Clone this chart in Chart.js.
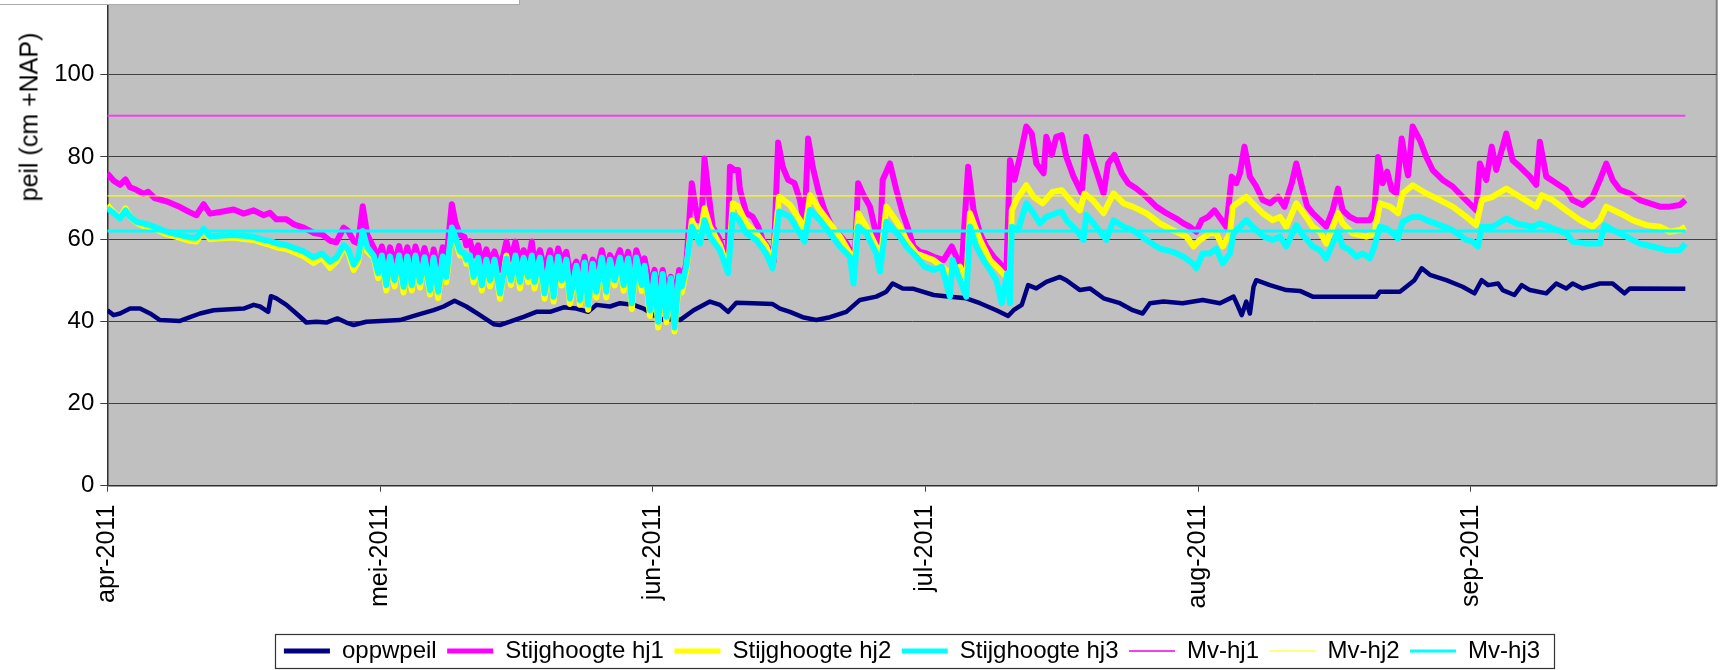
<!DOCTYPE html>
<html><head><meta charset="utf-8">
<script src="https://cdn.jsdelivr.net/npm/chart.js@4/dist/chart.umd.min.js"></script>
<style>
html,body{margin:0;padding:0;background:#fff;width:1729px;height:670px;overflow:hidden;position:relative;font-family:"Liberation Sans",Arial,sans-serif}
#wrap{position:absolute;left:0;top:-30px;width:1729px;height:703px}
#ytitle{position:absolute;left:29px;top:117px;transform:translate(-50%,-50%) rotate(-90deg);font-size:25px;white-space:nowrap;color:#000}
#logo{position:absolute;left:0;top:0;width:519px;height:4px;background:#fff;border-right:1px solid #aaa;border-bottom:1px solid #aaa}
</style></head>
<body>
<div id="wrap"><canvas id="c"></canvas></div>
<div id="ytitle">peil (cm +NAP)</div>
<div id="logo"></div>
<script>
// x = days since 1 april 2011
const TICK_DAYS = [0, 30, 60, 90, 120, 150];
const MONTH_LABELS = ['apr-2011','mei-2011','jun-2011','jul-2011','aug-2011','sep-2011'];
const Y_TICKS = [0, 20, 40, 60, 80, 100, 120];
const SERIES_NAMES = ['oppwpeil','Stijghoogte hj1','Stijghoogte hj2','Stijghoogte hj3','Mv-hj1','Mv-hj2','Mv-hj3'];

const oppwpeil = [[0,42.7],[0.7,41.5],[1.4,41.9],[2.5,43.1],[3.6,43.1],[4.7,41.9],[5.8,40.3],[8.0,40.1],[9.1,41.0],[10.2,41.9],[11.7,42.7],[13.1,42.9],[15.0,43.1],[16.1,44.0],[16.8,43.6],[17.7,42.3],[18.0,46.1],[18.6,45.6],[19.7,44.0],[20.8,41.9],[21.9,39.7],[23.0,39.9],[24.1,39.7],[25.3,40.7],[26.3,39.7],[27.1,39.1],[28.5,39.9],[32.2,40.3],[34.0,41.5],[35.9,42.7],[37.0,43.6],[38.2,45.0],[39.5,43.6],[41.0,41.5],[42.5,39.3],[43.2,39.1],[44.3,39.9],[45.8,41.1],[47.2,42.3],[48.7,42.3],[50.2,43.4],[51.6,43.1],[52.9,42.3],[53.8,44.0],[55.3,43.6],[56.4,44.4],[57.9,44.0],[59.0,43.1],[60.1,41.5],[61.2,40.3],[62.2,40.7],[63.0,40.3],[64.5,42.7],[66.3,44.8],[67.4,44.0],[68.3,42.3],[69.2,44.5],[71.0,44.4],[73.2,44.2],[74.0,43.1],[75.1,42.3],[76.5,41.0],[78.0,40.3],[79.5,41.0],[81.3,42.3],[82.8,45.2],[84.6,46.0],[85.7,47.2],[86.4,49.2],[87.5,48.0],[88.7,47.9],[90.9,46.4],[92.7,46.0],[94.5,45.6],[96.0,44.4],[97.8,42.7],[99.1,41.3],[99.7,42.7],[100.6,44.0],[101.3,48.8],[102.2,48.0],[103.3,49.6],[104.8,50.8],[105.5,50.0],[107.0,47.6],[108.1,48.0],[109.6,45.6],[111.4,44.4],[112.8,42.7],[113.9,41.9],[114.7,44.4],[116.2,44.8],[118.3,44.4],[120.5,45.2],[122.4,44.4],[123.9,46.0],[124.4,43.6],[124.8,41.5],[125.3,44.8],[125.7,41.9],[126.1,48.4],[126.4,50.0],[127.9,48.8],[129.7,47.6],[131.2,47.4],[132.6,46.0],[134.8,46.0],[139.6,46.0],[140.0,47.2],[142.2,47.2],[142.9,48.4],[143.8,50.0],[144.6,52.9],[145.5,51.3],[147.3,50.0],[149.1,48.4],[150.4,46.8],[151.2,50.0],[151.9,48.8],[153.0,49.2],[153.5,47.6],[154.8,46.4],[155.6,48.8],[156.5,47.6],[158.3,46.8],[159.4,49.2],[160.5,48.0],[161.2,49.2],[162.3,48.0],[164.2,49.2],[165.6,49.2],[166.9,46.8],[167.5,48.0],[173.6,47.9]];

const hj1 = [[0,76],[0.7,74.2],[1.4,73.2],[2.0,74.5],[2.5,72.6],[3.2,72.0],[4.0,71.0],[4.5,71.5],[5.2,70.0],[6.5,69.2],[8.0,67.8],[9.1,66.5],[9.8,65.8],[10.6,68.5],[11.3,66.2],[12.4,66.6],[13.9,67.2],[15.0,66.2],[16.1,67.0],[17.2,65.8],[17.9,66.4],[18.6,64.8],[19.7,64.8],[20.6,63.5],[21.6,62.8],[22.7,61.5],[23.6,61.2],[24.5,59.6],[25.2,59.2],[26.0,62.8],[26.5,62.0],[27.1,59.5],[27.6,59.0],[28.1,68.0],[28.6,61.0],
[29.3,58.0],[29.8,55.0],[30.2,58.2],[30.7,53.5],[31.1,58.0],[31.6,54.0],[32.1,58.3],[32.6,53.0],[33.0,58.0],[33.5,53.5],[33.9,58.2],[34.4,54.0],[34.9,57.8],[35.5,52.5],[35.9,57.5],[36.4,52.0],[36.9,58.0],[37.3,55.0],[37.9,68.5],[38.3,64.0],[38.8,61.0],[39.3,60.5],[39.5,58.5],[39.9,59.5],[40.3,56.0],[40.8,58.5],[41.2,54.0],[41.7,57.5],[42.1,54.5],[42.6,57.0],[43.2,52.5],[43.9,59.4],[44.4,55.0],[44.9,59.4],[45.4,54.0],[45.8,57.3],[46.3,54.5],[46.7,59.4],[47.0,54.0],[47.6,57.3],[48.1,52.5],[48.7,57.3],[49.1,52.0],[49.6,57.7],[50.0,54.5],[50.5,56.9],[50.9,51.5],[51.6,54.5],[52.0,51.0],[52.5,55.7],[52.9,50.0],[53.4,55.0],[53.8,52.0],[54.4,57.3],[54.9,52.0],[55.3,56.1],[55.8,54.0],[56.4,57.3],[56.8,53.0],[57.3,56.9],[57.7,50.5],[58.2,57.3],[58.8,53.0],[59.1,55.3],[59.7,48.5],[60.2,52.5],[60.6,46.0],[61.1,52.5],[61.5,47.0],[62.0,50.8],[62.4,45.0],[62.9,52.5],[63.2,50.0],[63.7,54.0],
[64.3,73.6],[64.7,68.0],[65.0,64.6],[65.4,66.0],[65.7,79.6],[66.1,72.0],[66.6,63.0],[67.4,59.8],[67.8,56.5],[68.2,53.5],[68.5,77.6],[69.0,76.8],[69.4,76.8],[69.6,72.0],[70.3,66.3],[71.0,65.4],[71.6,63.0],[72.1,59.8],[72.9,57.3],[73.3,54.5],[73.8,83.5],[74.3,77.6],[74.9,74.4],[75.6,73.6],[76.2,69.5],[76.7,63.0],[77.1,84.5],[77.6,77.6],[78.2,72.0],[78.9,67.0],[79.7,63.0],[80.4,61.4],[81.3,59.0],[81.9,56.5],[82.2,53.3],[82.6,73.6],[83.1,71.1],[83.9,67.9],[84.4,63.0],[85.0,58.2],[85.3,74.4],[86.1,78.4],[86.8,72.0],[87.5,66.3],[87.9,63.8],[88.7,58.2],[89.4,56.9],[90.1,56.5],[90.9,55.7],[92.0,54.9],[92.9,58.2],[93.4,55.7],[94.0,53.3],[94.7,77.6],[95.3,67.0],[96.0,61.4],[96.7,58.2],[97.5,55.7],[98.2,54.1],[98.9,51.7],[99.3,79.2],[99.8,74.4],[100.4,80.0],[101.1,87.4],[101.7,85.7],[102.2,78.4],[103.0,76.0],[103.3,84.9],[103.9,80.5],[104.4,84.9],[105.0,85.3],[105.5,80.0],[106.3,75.2],[107.2,71.1],[107.7,84.9],[108.3,80.0],[109.0,75.2],[109.6,71.1],[110.1,78.4],[110.8,80.5],[111.6,76.0],[112.3,73.6],[113.2,72.3],[114.3,70.3],[115.4,67.9],[116.5,66.3],[117.6,65.0],[118.4,63.8],[119.1,63.0],[119.8,61.8],[120.4,64.6],[121.1,65.4],[121.8,67.0],[122.6,64.6],[123.1,63.0],[123.7,75.2],[124.2,73.6],[124.6,76.0],[125.1,82.5],[125.7,75.2],[126.4,72.8],[127.1,69.5],[127.9,68.7],[128.8,70.3],[129.5,67.9],[130.3,73.6],[130.8,78.4],[131.5,72.0],[132.0,68.0],[132.6,66.3],[133.4,64.6],[134.1,63.0],[134.8,67.0],[135.4,72.3],[135.9,67.0],[136.7,65.4],[137.4,64.6],[138.1,64.6],[138.9,64.6],[139.4,67.0],[139.8,80.0],[140.3,73.6],[140.8,76.4],[141.3,72.0],[141.8,71.1],[142.4,84.5],[142.9,77.6],[143.1,75.5],[143.6,87.4],[144.4,84.1],[145.1,80.0],[145.8,76.8],[146.9,74.4],[148.0,72.8],[149.1,70.3],[150.2,67.9],[150.6,67.0],[151.0,78.4],[151.7,74.4],[152.3,82.5],[152.8,76.8],[153.9,85.7],[154.6,79.2],[155.4,77.6],[156.5,75.2],[157.2,73.2],[157.6,83.7],[158.3,75.2],[159.4,73.6],[160.5,72.0],[161.2,69.5],[162.3,68.3],[163.4,70.3],[164.2,74.4],[164.9,78.4],[165.6,74.4],[166.4,72.0],[167.5,71.1],[168.6,69.5],[169.7,68.7],[170.8,67.9],[171.9,67.9],[173.0,68.3],[173.6,69.5]];

const hj2 = [[0,68.3],[0.7,66.5],[1.4,65.2],[2.0,67.5],[2.5,65.5],[3.2,64.0],[4.0,63.2],[4.5,63.0],[5.2,62.5],[6.5,61.2],[8.0,60.3],[9.1,59.6],[9.8,59.4],[10.6,62.0],[11.3,60.0],[12.4,60.2],[13.9,60.4],[15.0,60.0],[16.1,59.8],[17.2,59.0],[17.9,58.6],[18.6,58.0],[19.7,57.6],[20.6,56.8],[21.6,55.8],[22.7,54.2],[23.6,55.5],[24.5,53.0],[25.2,54.5],[26.0,57.8],[26.5,56.8],[27.1,52.5],[27.6,54.5],[28.1,61.5],[28.6,57.0],
[29.3,55.5],[29.8,50.5],[30.2,55.5],[30.7,47.5],[31.1,55.3],[31.6,48.5],[32.1,55.5],[32.6,47.0],[33.0,55.3],[33.5,47.5],[33.9,55.5],[34.4,48.2],[34.9,55.2],[35.5,46.5],[35.9,55.0],[36.4,45.6],[36.9,55.3],[37.3,49.5],[37.9,62.0],[38.3,60.0],[38.8,56.0],[39.3,56.0],[39.5,54.0],[39.9,55.5],[40.3,49.5],[40.8,55.0],[41.2,47.5],[41.7,54.5],[42.1,48.5],[42.6,54.5],[43.2,45.5],[43.9,56.0],[44.4,48.8],[44.9,55.5],[45.4,48.0],[45.8,55.0],[46.3,49.5],[46.7,55.5],[47.0,48.0],[47.6,55.0],[48.1,45.5],[48.7,55.0],[49.1,44.8],[49.6,55.2],[50.0,48.7],[50.5,54.5],[50.9,44.2],[51.6,53.0],[52.0,44.0],[52.5,53.8],[52.9,42.8],[53.4,53.5],[53.8,45.8],[54.4,55.0],[54.9,45.8],[55.3,54.5],[55.8,48.7],[56.4,55.0],[56.8,47.4],[57.3,54.8],[57.7,43.0],[58.2,55.0],[58.8,47.4],[59.1,53.0],[59.7,41.3],[60.2,50.5],[60.6,38.5],[61.1,50.5],[61.5,39.8],[62.0,49.5],[62.4,37.5],[62.9,50.0],[63.2,47.0],[63.7,52.5],
[64.3,64.5],[65.2,60.6],[65.7,67.5],[66.3,63.0],[67.4,58.5],[68.3,52.5],[68.8,68.7],[69.4,67.9],[70.3,63.8],[71.4,61.4],[72.5,58.2],[73.2,53.7],[73.9,70.3],[75.1,68.3],[76.2,64.6],[76.7,61.4],[77.3,70.7],[78.4,67.0],[79.5,63.8],[80.6,60.6],[81.7,56.5],[82.1,50.8],[82.6,66.3],[83.5,63.0],[84.6,58.2],[85.0,53.3],[85.7,67.9],[87.2,63.0],[87.9,59.8],[89.0,56.5],[90.9,54.9],[92.7,51.7],[93.8,53.3],[94.5,50.0],[94.9,66.3],[96.0,59.8],[97.1,54.9],[98.2,52.5],[98.9,50.8],[99.3,50.8],[99.5,67.0],[100.0,69.5],[101.1,73.1],[101.9,70.3],[102.9,68.7],[104.0,71.5],[105.0,71.9],[105.9,69.5],[107.0,67.0],[107.5,71.1],[108.4,69.5],[109.6,66.3],[110.7,71.1],[111.8,68.7],[112.8,67.9],[114.3,66.3],[115.8,63.8],[117.2,62.2],[118.7,60.6],[119.5,58.2],[120.2,59.8],[121.3,61.4],[122.0,61.4],[122.7,58.2],[123.5,61.4],[123.8,67.9],[125.3,70.3],[126.0,68.7],[127.1,66.3],[128.2,64.6],[129.0,65.4],[129.7,63.0],[130.8,68.7],[131.9,65.4],[132.6,63.0],[133.4,61.8],[134.1,58.9],[134.8,63.0],[135.4,66.3],[135.9,63.8],[137.0,61.4],[138.5,60.6],[139.4,61.4],[140.0,68.7],[141.1,67.9],[142.0,66.3],[142.5,71.1],[143.6,73.1],[145.1,71.1],[146.6,69.5],[148.0,67.9],[149.5,65.4],[150.6,63.4],[151.2,69.5],[152.4,70.3],[153.9,72.3],[155.4,70.3],[157.2,67.9],[157.8,70.7],[159.0,69.5],[160.5,67.0],[162.0,64.6],[163.4,63.0],[164.2,64.6],[164.9,67.9],[166.4,66.3],[167.8,64.6],[169.3,63.4],[170.8,63.0],[171.9,61.8],[173.0,62.2],[173.6,63.0]];

const hj3 = [[0,67.5],[0.7,66.3],[1.4,65.0],[2.0,67.0],[2.5,65.5],[3.2,64.2],[4.0,63.8],[4.5,63.5],[5.2,63.0],[6.5,61.8],[8.0,61.0],[9.1,60.4],[9.8,60.3],[10.6,62.5],[11.3,60.6],[12.4,60.8],[13.9,61.0],[15.0,60.8],[16.1,60.5],[17.2,59.8],[17.9,59.5],[18.6,59.0],[19.7,58.5],[20.6,57.8],[21.6,57.0],[22.7,55.5],[23.6,56.5],[24.5,54.5],[25.2,55.5],[26.0,58.5],[26.5,57.5],[27.1,53.8],[27.6,55.5],[28.1,62.0],[28.6,58.0],
[29.3,56.0],[29.8,51.7],[30.2,56.0],[30.7,48.8],[31.1,55.8],[31.6,50.0],[32.1,56.0],[32.6,48.4],[33.0,55.8],[33.5,48.8],[33.9,56.0],[34.4,49.6],[34.9,55.6],[35.5,47.6],[35.9,55.5],[36.4,47.2],[36.9,55.8],[37.3,50.8],[37.9,62.8],[38.3,60.5],[38.8,57.0],[39.3,56.5],[39.5,55.0],[39.9,56.0],[40.3,50.8],[40.8,55.5],[41.2,48.8],[41.7,55.0],[42.1,50.0],[42.6,55.0],[43.2,46.8],[43.9,55.3],[44.4,50.0],[44.9,56.0],[45.4,49.6],[45.8,55.5],[46.3,50.8],[46.7,56.0],[47.0,49.6],[47.6,55.5],[48.1,46.8],[48.7,55.5],[49.1,46.0],[49.6,55.7],[50.0,50.0],[50.5,55.0],[50.9,45.6],[51.6,53.5],[52.0,45.2],[52.5,54.3],[52.9,44.0],[53.4,54.0],[53.8,47.2],[54.4,55.5],[54.9,47.2],[55.3,55.0],[55.8,50.0],[56.4,55.5],[56.8,48.8],[57.3,55.3],[57.7,44.4],[58.2,55.5],[58.8,48.8],[59.1,53.5],[59.7,42.7],[60.2,51.5],[60.6,39.9],[61.1,51.5],[61.5,41.1],[62.0,50.5],[62.4,38.5],[62.9,51.0],[63.2,48.5],[63.7,53.5],
[64.3,63.0],[65.2,58.9],[65.7,64.6],[66.3,60.6],[67.4,57.3],[68.3,51.7],[68.8,65.9],[69.4,65.0],[70.3,61.4],[71.4,59.8],[72.5,56.5],[73.2,52.9],[73.9,66.7],[75.1,65.4],[76.2,61.4],[76.7,59.4],[77.3,67.1],[78.4,64.6],[79.5,61.4],[80.6,58.2],[81.7,55.7],[82.1,49.2],[82.6,63.0],[83.5,61.4],[84.6,56.5],[85.0,52.1],[85.7,64.2],[87.2,60.6],[87.9,58.2],[89.0,55.7],[89.9,53.3],[90.9,52.5],[91.8,53.3],[92.7,46.0],[93.0,54.9],[93.8,50.0],[94.5,46.0],[94.9,63.0],[95.6,58.2],[96.4,54.9],[97.1,52.5],[97.8,50.0],[98.4,44.4],[99.0,51.7],[99.3,44.4],[99.5,63.0],[100.2,62.2],[101.1,68.7],[101.9,66.3],[102.6,63.8],[103.3,65.4],[104.4,66.3],[105.0,66.7],[105.5,64.6],[106.6,62.2],[107.4,59.8],[107.7,65.9],[108.8,63.0],[109.9,59.8],[110.7,64.6],[111.8,63.0],[112.8,62.2],[114.3,59.8],[115.8,57.7],[117.2,56.9],[118.4,55.7],[119.4,54.1],[119.8,52.9],[120.5,56.5],[121.3,56.5],[122.0,57.7],[122.7,54.1],[123.5,56.5],[123.9,61.4],[125.3,64.6],[126.0,63.0],[127.2,60.6],[128.2,59.8],[129.0,60.6],[129.7,58.2],[130.8,63.4],[131.5,61.0],[132.0,59.8],[132.6,58.2],[133.4,57.3],[134.1,55.3],[134.8,58.9],[135.4,61.8],[135.9,58.2],[136.7,57.3],[137.4,55.7],[138.1,56.5],[138.9,55.3],[139.4,58.2],[140.0,63.0],[140.7,62.6],[141.4,61.4],[142.0,60.2],[142.5,64.2],[143.6,65.4],[144.4,65.4],[145.1,64.6],[146.6,63.4],[148.0,62.2],[149.5,59.8],[150.2,59.4],[150.8,58.2],[151.2,63.0],[152.4,63.0],[153.9,65.0],[155.0,63.8],[156.8,63.0],[157.6,63.8],[159.0,62.6],[160.5,61.4],[161.2,59.4],[162.7,58.9],[164.2,58.9],[164.7,63.4],[165.6,62.2],[167.1,60.6],[168.6,58.9],[170.0,58.2],[171.5,57.3],[173.0,57.3],[173.6,58.9]];

const mvHj1 = [[0,90],[173.6,90]];
const mvHj2 = [[0,70.5],[173.6,70.5]];
const mvHj3 = [[0,62],[173.6,62]];

const FONT = "'Liberation Sans', Arial, sans-serif";
Chart.defaults.font.family = FONT;
Chart.defaults.color = '#000';

function ds(label, pts, color, width, legendWidth, order) {
  return {
    label, data: pts.map(p => ({x: p[0], y: p[1]})),
    borderColor: color, backgroundColor: color, borderWidth: width,
    pointRadius: 0, pointHoverRadius: 0, pointBorderWidth: legendWidth, pointBorderColor: color,
    tension: 0, fill: false, order, borderJoinStyle: 'round', borderCapStyle: 'butt'
  };
}

const plotBg = {
  id: 'plotBg',
  beforeDraw(chart) {
    const {ctx, chartArea: a} = chart;
    ctx.save();
    ctx.fillStyle = '#C0C0C0';
    ctx.fillRect(a.left, a.top, a.width, a.height);
    ctx.strokeStyle = '#808080';
    ctx.lineWidth = 2;
    ctx.beginPath(); ctx.moveTo(a.right, a.top); ctx.lineTo(a.right, a.bottom); ctx.stroke();
    ctx.restore();
  }
};
const legendBox = {
  id: 'legendBox',
  afterDraw(chart) {
    const lg = chart.legend;
    if (!lg || !lg.legendHitBoxes || !lg.legendHitBoxes.length) return;
    const hb = lg.legendHitBoxes;
    const left = Math.min(...hb.map(h => h.left)) - 8.5;
    const right = Math.max(...hb.map(h => h.left + h.width)) + 14.5;
    const cy = hb[0].top + hb[0].height / 2;
    const ctx = chart.ctx;
    ctx.save();
    ctx.strokeStyle = '#333';
    ctx.lineWidth = 1.2;
    ctx.strokeRect(Math.round(left) + 0.5, Math.round(cy - 17) + 0.5, Math.round(right - left), 34);
    ctx.restore();
  }
};

new Chart(document.getElementById('c'), {
  type: 'line',
  data: {
    datasets: [
      ds(SERIES_NAMES[0], oppwpeil, '#000080', 4.5, 5, 7),
      ds(SERIES_NAMES[1], hj1, '#FF00FF', 6, 5, 6),
      ds(SERIES_NAMES[2], hj2, '#FFFF00', 6, 5, 5),
      ds(SERIES_NAMES[3], hj3, '#00FFFF', 6, 5, 4),
      ds(SERIES_NAMES[4], mvHj1, '#F040F0', 2, 2, 3),
      ds(SERIES_NAMES[5], mvHj2, '#FFFF00', 1.2, 1.2, 2),
      ds(SERIES_NAMES[6], mvHj3, '#00FFFF', 3, 3, 1)
    ]
  },
  options: {
    responsive: true, maintainAspectRatio: false, animation: false,
    layout: {padding: {top: 22.5, left: 0, right: 12.3, bottom: 0}},
    plugins: {
      tooltip: {enabled: false},
      legend: {
        position: 'bottom', fullSize: false,
        labels: {
          usePointStyle: true, pointStyle: 'line', pointStyleWidth: 46, padding: 10.5,
          font: {size: 24, family: FONT}, color: '#000',
          sort: (a, b) => a.datasetIndex - b.datasetIndex
        }
      }
    },
    scales: {
      x: {
        type: 'linear', min: 0, max: 177.05,
        afterBuildTicks: s => { s.ticks = TICK_DAYS.map(v => ({value: v})); },
        afterFit: s => { s.height = 142.8; },
        ticks: {
          callback: (v, i) => MONTH_LABELS[i],
          minRotation: 90, maxRotation: 90, autoSkip: false,
          font: {size: 25, family: FONT}, color: '#000', padding: 13
        },
        grid: {drawOnChartArea: false, drawTicks: true, tickLength: 6, color: '#404040', lineWidth: 1},
        border: {color: '#303030', width: 1.5}
      },
      y: {
        min: 0, max: 120,
        afterBuildTicks: s => { s.ticks = Y_TICKS.map(v => ({value: v})); },
        afterFit: s => { s.width = 107.3; },
        ticks: {
          callback: v => (v === 120 ? '' : v),
          font: {size: 24, family: FONT}, color: '#000', padding: 6
        },
        grid: {color: '#404040', lineWidth: 1, tickLength: 7},
        border: {color: '#303030', width: 1.5}
      }
    }
  },
  plugins: [plotBg, legendBox]
});
</script>
</body></html>
